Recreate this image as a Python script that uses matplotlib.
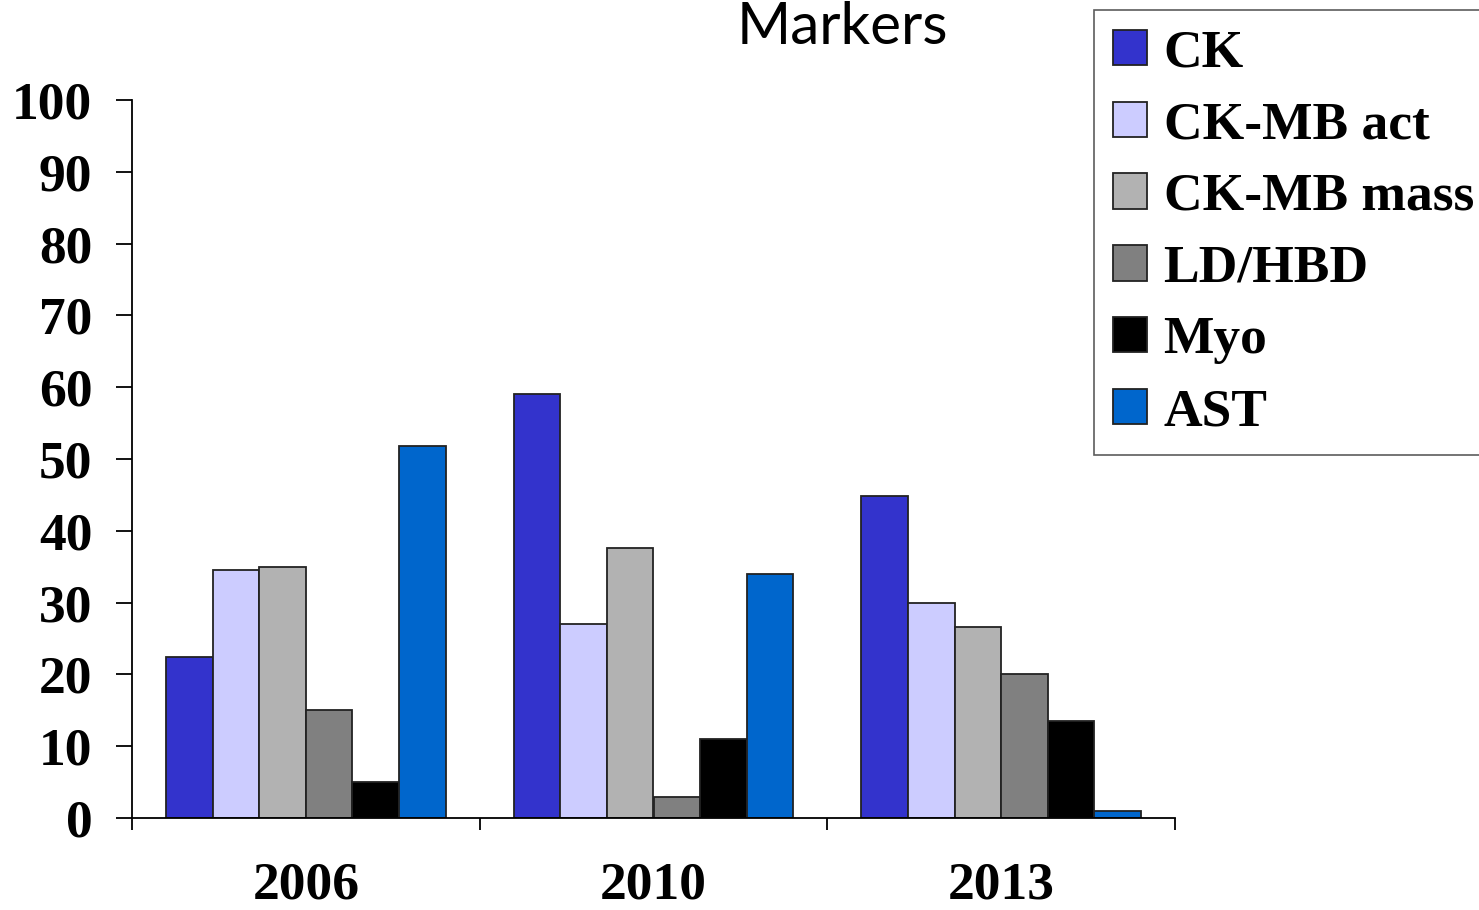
import numpy as np
import matplotlib
matplotlib.use("Agg")
import matplotlib.pyplot as plt

years = ["2006", "2010", "2013"]
markers = ["CK", "CK-MB act", "CK-MB mass", "LD/HBD", "Myo", "AST"]
ck = [22.4, 59.0, 44.8]
ckmb_act = [34.5, 27.0, 29.9]
ckmb_mass = [35.0, 37.6, 26.6]
ld_hbd = [15.0, 2.9, 20.0]
myo = [5.0, 11.0, 13.5]
ast = [51.8, 34.0, 1.0]
colors = ["#3333CC", "#CCCCFF", "#B2B2B2", "#808080", "#000000", "#0066CC"]

series = [ck, ckmb_act, ckmb_mass, ld_hbd, myo, ast]

serif = "Liberation Serif"
fs = 38.5

fig = plt.figure(figsize=(14.79, 9.10), dpi=100)
ax = fig.add_axes([132/1479, 92/910, (1175-132)/1479, (818-100)/910])

x = np.arange(len(years))
w = 0.134
for i, (vals, name) in enumerate(zip(series, markers)):
    ax.bar(x + (i - 2.5) * w, vals, w, color=colors[i], edgecolor="#222222",
           linewidth=1.3, label=name, zorder=2)

ax.set_xlim(-0.5, 2.5)
ax.set_ylim(0, 100)
ax.set_yticks(range(0, 101, 10))
ax.set_xticks([-0.5, 0.5, 1.5, 2.5])
ax.set_xticklabels([])
ax.set_xticks(x, minor=True)
ax.set_xticklabels(years, minor=True)
# year labels sit low, keep the descent inside the figure
ax.tick_params(axis="x", which="minor", length=0, pad=31)
ax.tick_params(axis="x", which="major", direction="out", length=8.6, width=1.3)
ax.tick_params(axis="y", direction="out", length=11.5, width=1.3, pad=17)
for lab in ax.get_yticklabels() + ax.get_xticklabels(minor=True):
    lab.set_fontfamily(serif)
    lab.set_fontweight("bold")
    lab.set_fontsize(fs)
for s in ["top", "right"]:
    ax.spines[s].set_visible(False)
ax.spines["left"].set_linewidth(1.3)
ax.spines["bottom"].set_linewidth(1.3)
ax.spines["bottom"].set_bounds(-0.5, 2.5)

fig.text(842/1479, 1 - 27/910, "Markers", ha="center", va="center",
         fontsize=42, family="Lato")

leg = fig.legend(loc="upper left", bbox_to_anchor=(1094/1479, 1 - 10/910),
                 prop={"family": serif, "weight": "bold", "size": fs},
                 frameon=True, fancybox=False, edgecolor="#333333",
                 handlelength=0.64, handleheight=0.64, handletextpad=0.3,
                 labelspacing=0.445, borderpad=0.36, borderaxespad=0)
leg.get_frame().set_linewidth(1.2)

fig.savefig("out.png", dpi=100)
